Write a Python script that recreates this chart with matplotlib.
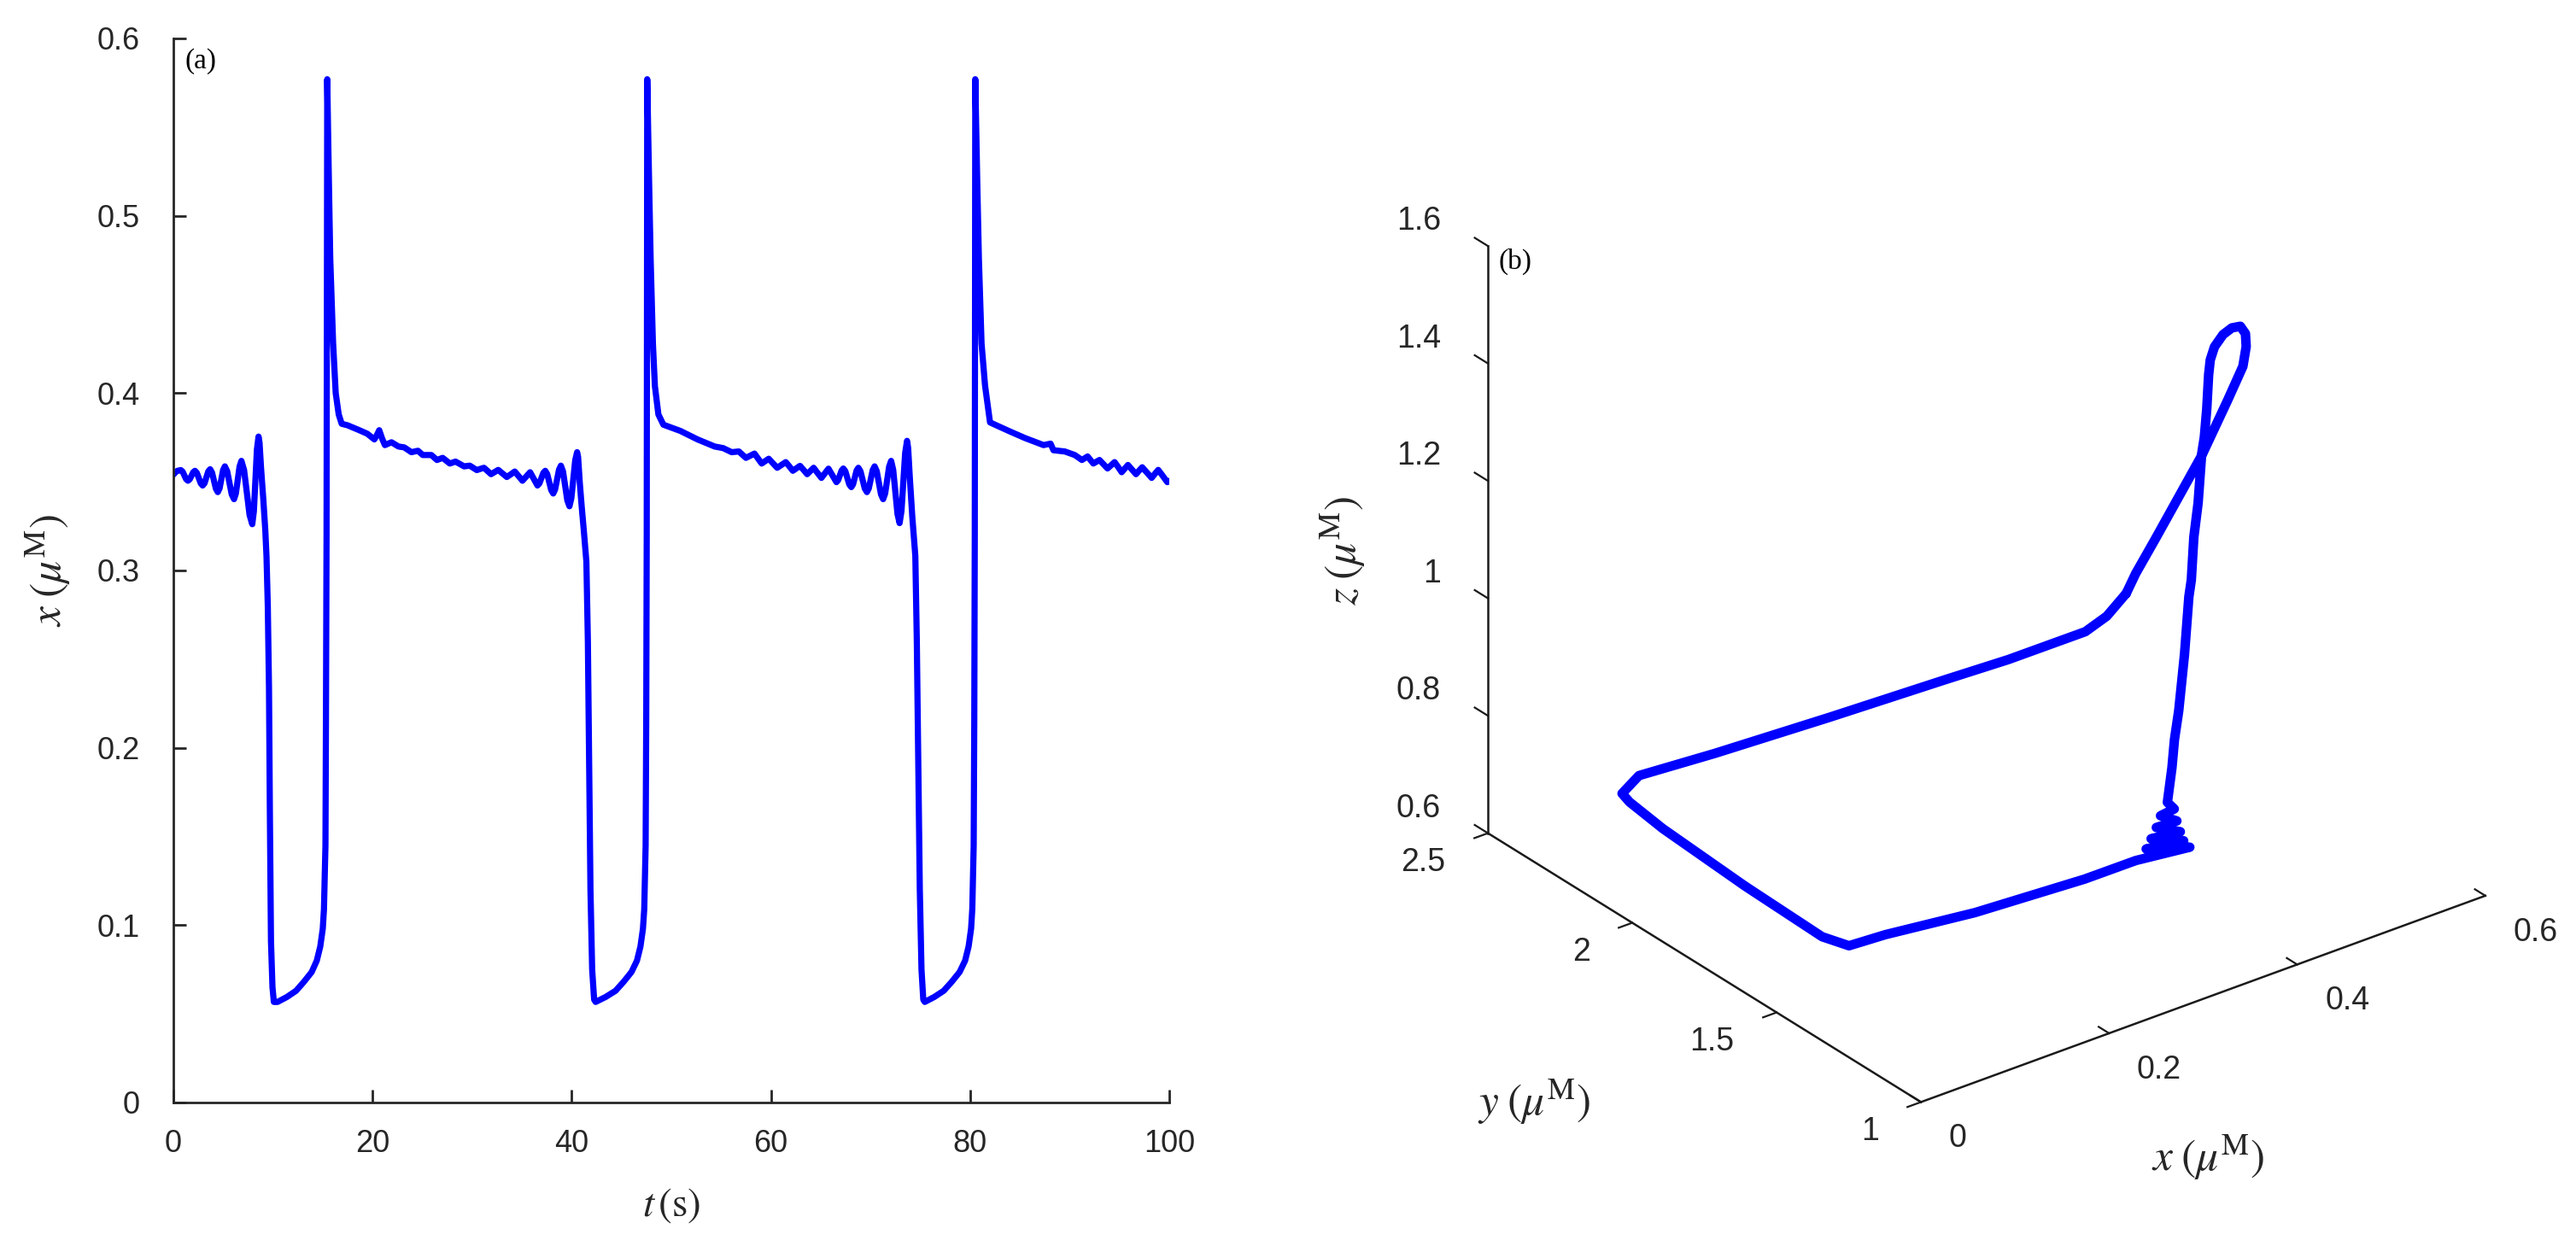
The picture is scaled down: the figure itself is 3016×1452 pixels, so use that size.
import numpy as np
import matplotlib
matplotlib.use('Agg')
import matplotlib.pyplot as plt
from mpl_toolkits.mplot3d import proj3d

# ---------------- data ----------------
time_s = [0.00, 0.20, 0.40, 0.75, 0.93, 1.105, 1.28, 1.46, 1.64, 1.815, 1.99, 2.17, 2.36, 2.555, 2.75, 2.94,
          3.13, 3.315, 3.50, 3.69, 3.88, 4.075, 4.27, 4.46, 4.64, 4.815, 4.99, 5.17, 5.40, 5.63, 5.86, 6.09,
          6.275, 6.46, 6.645, 6.83, 7.10, 7.375, 7.65, 7.92, 8.08, 8.235, 8.39, 8.55,
          8.65, 8.80, 9.03, 9.23, 9.35, 9.48, 9.60, 9.69, 9.80, 9.95, 10.09,
          10.46, 11.40, 12.32, 13.10, 13.89, 14.40, 14.75, 15.00, 15.12, 15.27, 15.32, 15.38, 15.42, 15.45,
          15.60, 15.75, 16.04, 16.30, 16.60, 16.90, 17.47, 18.50, 19.47, 20.18, 20.45, 20.67, 20.95,
          21.24, 21.90, 22.60, 23.18, 23.90, 24.56, 25.04, 25.90, 26.47, 27.04, 27.76, 28.33, 29.19,
          29.76, 30.10, 30.47, 30.83, 31.19, 31.55, 31.90, 32.26, 32.62, 33.05, 33.48, 33.88, 34.28, 34.66, 35.05,
          35.44, 35.82, 36.19, 36.56, 36.755, 36.95, 37.145, 37.34, 37.54, 37.74, 37.94, 38.14,
          38.33, 38.525, 38.72, 38.91, 39.125, 39.34, 39.555, 39.77, 39.96, 40.155, 40.35, 40.54,
          40.64, 40.80, 41.00, 41.22, 41.47, 41.62, 41.75, 41.88, 42.05, 42.25, 42.40,
          43.40, 44.40, 45.20, 46.00, 46.55, 46.90, 47.15, 47.28, 47.42, 47.48, 47.53, 47.56, 47.58,
          47.75, 47.92, 48.15, 48.35, 48.70, 49.20, 50.90, 52.63, 54.35, 55.20, 56.06, 56.78, 57.49,
          58.35, 59.07, 59.78, 60.20, 60.63, 61.06, 61.49, 61.85, 62.20, 62.56, 62.92, 63.28, 63.64, 63.97,
          64.29, 64.68, 65.07, 65.42, 65.78, 66.18, 66.58, 66.75, 66.925, 67.10, 67.27, 67.47, 67.67, 67.87,
          68.07, 68.25, 68.425, 68.60, 68.78, 68.995, 69.21, 69.425, 69.64, 69.83, 70.025, 70.22, 70.41,
          70.625, 70.84, 71.055, 71.27, 71.47, 71.67, 71.87, 72.07, 72.28, 72.495, 72.71, 72.92,
          73.11, 73.295, 73.48, 73.67,
          73.78, 73.95, 74.20, 74.50, 74.65, 74.80, 74.95, 75.12, 75.30, 75.45,
          76.40, 77.35, 78.15, 78.95, 79.50, 79.85, 80.10, 80.22, 80.36, 80.42, 80.47, 80.50, 80.52,
          80.70, 80.88, 81.15, 81.50, 82.00, 82.50, 84.07, 85.50, 87.37, 88.08, 88.37, 89.51, 90.51,
          91.23, 91.80, 92.08, 92.37, 92.68, 92.99, 93.40, 93.80, 94.16, 94.51, 94.87, 95.22, 95.54, 95.85,
          96.26, 96.66, 96.97, 97.28, 97.76, 98.23, 98.56, 98.89, 99.35, 99.80, 100.0]
x_uM = [0.3540, 0.3553, 0.3562, 0.3566, 0.3557, 0.3536, 0.3515, 0.3506, 0.3514, 0.3534, 0.3554, 0.3562,
        0.3550, 0.3521, 0.3491, 0.3479, 0.3492, 0.3525, 0.3558, 0.3571, 0.3552, 0.3507, 0.3461, 0.3442,
        0.3463, 0.3515, 0.3566, 0.3587, 0.3560, 0.3495, 0.3429, 0.3402, 0.3434, 0.3510, 0.3586, 0.3618,
        0.3566, 0.3440, 0.3313, 0.3261, 0.3333, 0.3508, 0.3683, 0.3755,
        0.3720, 0.3580, 0.3400, 0.3226, 0.3080, 0.2800, 0.2340, 0.1625, 0.0910, 0.0650, 0.0567,
        0.0567, 0.0595, 0.0630, 0.0680, 0.0736, 0.0800, 0.0880, 0.0980, 0.1090, 0.1450, 0.2160, 0.3200, 0.4500, 0.5770,
        0.5240, 0.4760, 0.4280, 0.4000, 0.3880, 0.3827, 0.3819, 0.3795, 0.3771, 0.3739, 0.3765, 0.3791, 0.3745,
        0.3707, 0.3723, 0.3699, 0.3694, 0.3667, 0.3675, 0.3651, 0.3651, 0.3623, 0.3635, 0.3603, 0.3614, 0.3587,
        0.3591, 0.3579, 0.3566, 0.3573, 0.3579, 0.3561, 0.3543, 0.3555, 0.3567, 0.3547, 0.3527, 0.3542, 0.3558,
        0.3532, 0.3506, 0.3530, 0.3554, 0.3516, 0.3479, 0.3491, 0.3520, 0.3550, 0.3562, 0.3543, 0.3498, 0.3453,
        0.3434, 0.3457, 0.3512, 0.3568, 0.3591, 0.3558, 0.3476, 0.3395, 0.3362, 0.3407, 0.3515, 0.3622, 0.3667,
        0.3640, 0.3500, 0.3360, 0.3220, 0.3050, 0.2600, 0.1900, 0.1200, 0.0750, 0.0580, 0.0567,
        0.0595, 0.0630, 0.0680, 0.0736, 0.0800, 0.0880, 0.0980, 0.1090, 0.1450, 0.2160, 0.3200, 0.4500, 0.5770,
        0.5240, 0.4760, 0.4280, 0.4040, 0.3880, 0.3822, 0.3787, 0.3739, 0.3699, 0.3690, 0.3667, 0.3671, 0.3635,
        0.3659, 0.3603, 0.3630, 0.3605, 0.3579, 0.3595, 0.3611, 0.3587, 0.3562, 0.3576, 0.3590, 0.3567, 0.3543, 0.3561,
        0.3579, 0.3550, 0.3522, 0.3548, 0.3574, 0.3536, 0.3498, 0.3509, 0.3537, 0.3564, 0.3575, 0.3560, 0.3523, 0.3485,
        0.3470, 0.3486, 0.3525, 0.3563, 0.3579, 0.3559, 0.3511, 0.3462, 0.3442, 0.3463, 0.3515, 0.3566, 0.3587,
        0.3560, 0.3495, 0.3429, 0.3402, 0.3434, 0.3510, 0.3586, 0.3618, 0.3567, 0.3443, 0.3318, 0.3267,
        0.3335, 0.3499, 0.3663, 0.3731,
        0.3690, 0.3520, 0.3300, 0.3082, 0.2600, 0.1900, 0.1200, 0.0750, 0.0580, 0.0567,
        0.0595, 0.0630, 0.0680, 0.0736, 0.0800, 0.0880, 0.0980, 0.1090, 0.1450, 0.2160, 0.3200, 0.4500, 0.5770,
        0.5240, 0.4760, 0.4280, 0.4043, 0.3835, 0.3822, 0.3782, 0.3747, 0.3707, 0.3715, 0.3678, 0.3671, 0.3651,
        0.3623, 0.3643, 0.3623, 0.3603, 0.3613, 0.3623, 0.3599, 0.3575, 0.3593, 0.3611, 0.3583, 0.3554, 0.3575, 0.3595,
        0.3569, 0.3543, 0.3563, 0.3582, 0.3552, 0.3522, 0.3545, 0.3567, 0.3533, 0.3498, 0.3505]

traj_x = [0.578, 0.572, 0.560, 0.530, 0.500, 0.485, 0.475, 0.465, 0.455, 0.445, 0.435, 0.425, 0.415, 0.405,
          0.395, 0.390, 0.385, 0.380, 0.377, 0.374, 0.372, 0.368, 0.364, 0.361, 0.358, 0.355,
          0.362, 0.348, 0.366, 0.342, 0.370, 0.334, 0.372, 0.326, 0.3755, 0.320, 0.270, 0.160, 0.080,
          0.057, 0.057, 0.060, 0.065, 0.072, 0.080, 0.110, 0.190, 0.310, 0.430, 0.500, 0.560, 0.572, 0.578]
traj_y = [2.172, 2.120, 2.010, 1.753, 1.567, 1.465, 1.421, 1.391, 1.376, 1.373, 1.371, 1.368, 1.350, 1.323,
          1.297, 1.289, 1.282, 1.278, 1.283, 1.282, 1.284, 1.286, 1.293, 1.298, 1.297, 1.303,
          1.302, 1.304, 1.306, 1.299, 1.307, 1.291, 1.302, 1.282, 1.292, 1.298, 1.313, 1.334, 1.384,
          1.435, 1.528, 1.806, 2.106, 2.244, 2.296, 2.335, 2.332, 2.326, 2.320, 2.326, 2.255, 2.220, 2.172]
traj_z = [0.770, 0.823, 0.925, 1.162, 1.329, 1.427, 1.480, 1.517, 1.540, 1.544, 1.539, 1.525, 1.514, 1.503,
          1.458, 1.416, 1.392, 1.313, 1.255, 1.184, 1.156, 1.060, 0.964, 0.915, 0.869, 0.810,
          0.795, 0.791, 0.771, 0.776, 0.750, 0.764, 0.735, 0.754, 0.725, 0.733, 0.726, 0.727, 0.721,
          0.700, 0.687, 0.687, 0.690, 0.689, 0.683, 0.684, 0.676, 0.669, 0.664, 0.656, 0.690, 0.720, 0.770]

t_ticks = [0, 20, 40, 60, 80, 100]
x_ticks = [0, 0.1, 0.2, 0.3, 0.4, 0.5, 0.6]
x_ticklabels = ['0', '0.1', '0.2', '0.3', '0.4', '0.5', '0.6']
x3_ticks = [0, 0.2, 0.4, 0.6]
x3_ticklabels = ['0', '0.2', '0.4', '0.6']
y3_ticks = [1, 1.5, 2, 2.5]
y3_ticklabels = ['1', '1.5', '2', '2.5']
z3_ticks = [0.6, 0.8, 1.0, 1.2, 1.4, 1.6]
z3_ticklabels = ['0.6', '0.8', '1', '1.2', '1.4', '1.6']

# ---------------- figure ----------------
plt.rcParams['font.family'] = ['Liberation Sans', 'DejaVu Sans']
plt.rcParams['mathtext.fontset'] = 'stix'

W, H, DPI = 3016, 1452, 200
fig = plt.figure(figsize=(W / DPI, H / DPI), dpi=DPI)
TXT = '#262626'
BLUE = '#0000ff'
SERIF = ['Liberation Serif', 'DejaVu Serif']

# ---- panel (a) ----
ax = fig.add_axes([203 / W, 1 - 1291 / H, (1369 - 203) / W, (1291 - 45) / H])
ax.plot(time_s, x_uM, color=BLUE, lw=2.6, solid_joinstyle='round', solid_capstyle='round')
ax.set_xlim(0, 100)
ax.set_ylim(0, 0.6)
ax.set_xticks(t_ticks)
ax.set_yticks(x_ticks)
ax.set_yticklabels(x_ticklabels)
for s in ['top', 'right']:
    ax.spines[s].set_visible(False)
for s in ['left', 'bottom']:
    ax.spines[s].set_color(TXT)
    ax.spines[s].set_linewidth(1.0)
ax.tick_params(direction='in', length=5.5, width=1.0, color=TXT, labelcolor=TXT, labelsize=13)
ax.tick_params(axis='y', pad=14)
ax.tick_params(axis='x', pad=11)
ax.set_xlabel(r'$t\,(\mathrm{s})$', fontsize=17, color=TXT)
ax.xaxis.set_label_coords(0.5, (1291 - 1412) / 1246)
ax.xaxis.label.set_va('center')
ax.set_ylabel(r'$x\;(\mu^{\mathrm{M}})$', fontsize=18.5, color=TXT)
ax.yaxis.set_label_coords((56 - 203) / 1166, 0.5)
ax.yaxis.label.set_va('center')
fig.text(216 / W, 1 - 56 / H, '(a)', family=SERIF, fontsize=12, va='top', ha='left', color='black')

# ---- panel (b) ----
ax3 = fig.add_axes([1675 / W, 133 / H, 1300 / W, 1300 / H], projection='3d', proj_type='ortho')
ax3.view_init(elev=28.46, azim=-127.5)
ax3.set_box_aspect((1, 1, 0.939))
ax3.plot(traj_x, traj_y, traj_z, color=BLUE, lw=4.0, solid_joinstyle='round', solid_capstyle='round')
ax3.set_xlim(0, 0.6)
ax3.set_ylim(1, 2.5)
ax3.set_zlim(0.6, 1.6)
ax3.set_xticks(x3_ticks)
ax3.set_yticks(y3_ticks)
ax3.set_zticks(z3_ticks)
ax3.set_xticklabels([])
ax3.set_yticklabels([])
ax3.set_zticklabels([])
ax3.grid(False)
ax3.patch.set_alpha(0)
# MATLAB-like tick directions: x ticks outward, y ticks inward, z ticks along +y
ax3.zaxis._get_tickdir = lambda *args, **kwargs: 1
tick_dirs = {'x': (0.0, 0.3), 'y': (0.3, 0.0), 'z': (0.0, 0.38)}
for name, axis in (('x', ax3.xaxis), ('y', ax3.yaxis), ('z', ax3.zaxis)):
    axis.pane.set_visible(False)
    axis.line.set_color('#1a1a1a')
    axis.line.set_linewidth(0.9)
    axis._axinfo['tick']['inward_factor'] = tick_dirs[name][0]
    axis._axinfo['tick']['outward_factor'] = tick_dirs[name][1]
    ax3.tick_params(axis=name, color='#1a1a1a', width=0.9)

fig.text(2585 / W, 1 - 1355 / H, r'$x\;(\mu^{\mathrm{M}})$', fontsize=18.5, color=TXT, ha='center', va='center')
fig.text(1796 / W, 1 - 1290 / H, r'$y\;(\mu^{\mathrm{M}})$', fontsize=18.5, color=TXT, ha='center', va='center')
fig.text(1572 / W, 1 - 645 / H, r'$z\;(\mu^{\mathrm{M}})$', fontsize=18.5, color=TXT, ha='center', va='center',
         rotation=90)
fig.text(1755 / W, 1 - 291 / H, '(b)', family=SERIF, fontsize=12, va='top', ha='left', color='black')

# fit the 3D box so its corners land where the reference draws them
fig.canvas.draw()
corners = np.array([[0, 1, 0.6], [0.6, 1, 0.6], [0, 2.5, 1.6], [0, 2.5, 0.6]])
target = np.array([[2249, H - 1291], [2909, H - 1050], [1744, H - 287], [1741, H - 975]], float)


def to_display(pts):
    pts = np.asarray(pts, float)
    px, py, _z = proj3d.proj_transform(pts[:, 0], pts[:, 1], pts[:, 2], ax3.get_proj())
    return ax3.transData.transform(np.column_stack([px, py]))


for _ in range(3):
    cur = to_display(corners)
    b = ax3.get_position().bounds
    x0, y0, w, h = b[0] * W, b[1] * H, b[2] * W, b[3] * H
    cc = cur.mean(0)
    tc = target.mean(0)
    s = np.sum((cur - cc) * (target - tc)) / np.sum((cur - cc) ** 2)
    nx0 = tc[0] - s * (cc[0] - x0)
    ny0 = tc[1] - s * (cc[1] - y0)
    ax3.set_position([nx0 / W, ny0 / H, s * w / W, s * h / H])
    fig.canvas.draw()

# tick labels of the 3D panel, placed MATLAB-style next to the ticks
lab_x = to_display([[v, 0.904, 0.567] for v in x3_ticks])
for (dx, dy), lab in zip(lab_x, x3_ticklabels):
    fig.text(dx / W, dy / H, lab, ha='left', va='center', fontsize=13.5, color=TXT)
lab_y = to_display([[-0.045, v, 0.576] for v in y3_ticks])
for (dx, dy), lab in zip(lab_y, y3_ticklabels):
    fig.text(dx / W, dy / H, lab, ha='right', va='center', fontsize=13.5, color=TXT)
lab_z = to_display([[0.0, 2.663, v - 0.0077] for v in z3_ticks])
for (dx, dy), lab in zip(lab_z, z3_ticklabels):
    fig.text(dx / W, dy / H, lab, ha='right', va='center', fontsize=13.5, color=TXT)

fig.savefig('out.png', dpi=DPI)
